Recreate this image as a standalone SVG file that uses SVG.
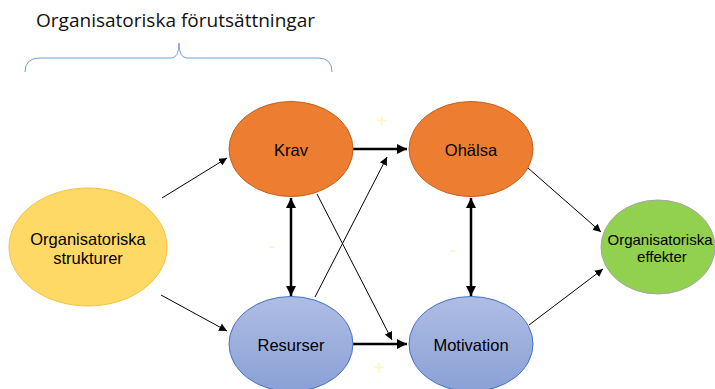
<svg xmlns="http://www.w3.org/2000/svg" width="715" height="389" viewBox="0 0 715 389">
<style>
.lbl{font-family:"Liberation Sans",Arial,sans-serif;font-size:16.5px;fill:#000;text-anchor:middle}
.sm{font-size:15px}
.thin{stroke:#000;stroke-width:1;fill:none;marker-end:url(#ah)}
.thick{stroke:#000;stroke-width:2.5;fill:none}
.sign{font-family:"Liberation Sans",Arial,sans-serif;font-size:20px;fill:#FFF7C0;text-anchor:middle}
</style>
<defs>
<linearGradient id="blue" x1="0" y1="0" x2="0" y2="1">
<stop offset="0" stop-color="#AEBDE4"/>
<stop offset="1" stop-color="#8AA1D6"/>
</linearGradient>
<marker id="ah" viewBox="0 0 10 10" refX="10" refY="5" markerWidth="8" markerHeight="8" markerUnits="userSpaceOnUse" orient="auto">
<path d="M0,0 L10,5 L0,10 z" fill="#000"/>
</marker>
<marker id="ahb" viewBox="0 0 10 10" refX="10" refY="5" markerWidth="4" markerHeight="4" orient="auto-start-reverse">
<path d="M0,0 L10,5 L0,10 z" fill="#000"/>
</marker>
</defs>
<rect width="715" height="389" fill="#fff"/>
<g id="title">
<text x="36" y="27" font-family="'Open Sans','Liberation Sans',sans-serif" font-size="19" fill="#111" textLength="279" lengthAdjust="spacingAndGlyphs">Organisatoriska förutsättningar</text>
<path d="M25,72 Q25,58 40,58 L171,58 Q179,58 179,43 Q179,58 187,58 L318,58 Q332,58 332,72" fill="none" stroke="#6FA0D8" stroke-width="1"/>
</g>
<g id="connectors">
<line class="thin" x1="162" y1="198" x2="227" y2="158"/>
<line class="thin" x1="161" y1="295" x2="227" y2="331"/>
<line class="thick" x1="353" y1="149" x2="407" y2="149" marker-end="url(#ahb)"/>
<line class="thick" x1="353" y1="344" x2="407" y2="344" marker-end="url(#ahb)"/>
<line class="thick" x1="291" y1="198" x2="291" y2="296" marker-start="url(#ahb)" marker-end="url(#ahb)"/>
<line class="thick" x1="471" y1="198" x2="471" y2="296" marker-start="url(#ahb)" marker-end="url(#ahb)"/>
<line class="thin" x1="315" y1="297" x2="387" y2="157"/>
<line class="thin" x1="317" y1="194" x2="392" y2="340"/>
<line class="thin" x1="528" y1="168" x2="601" y2="232"/>
<line class="thin" x1="529" y1="325" x2="603" y2="269"/>
</g>
<g id="signs">
<text class="sign" x="382" y="128">+</text>
<text class="sign" x="272" y="253">-</text>
<text class="sign" x="453" y="257">-</text>
<text class="sign" x="379" y="375">+</text>
</g>
<g id="strukturer">
<ellipse cx="88" cy="247" rx="79" ry="59" fill="#FFD966" stroke="#F2C244" stroke-width="1"/>
<text class="lbl" x="88" y="245">Organisatoriska</text>
<text class="lbl" x="88" y="264">strukturer</text>
</g>
<g id="krav">
<ellipse cx="291" cy="149" rx="62" ry="47.5" fill="#ED7D31" stroke="#C2621F" stroke-width="1"/>
<text class="lbl" x="291" y="156">Krav</text>
</g>
<g id="ohalsa">
<ellipse cx="471" cy="149" rx="62" ry="47.5" fill="#ED7D31" stroke="#C2621F" stroke-width="1"/>
<text class="lbl" x="471" y="156">Ohälsa</text>
</g>
<g id="resurser">
<ellipse cx="291" cy="344" rx="62" ry="47.5" fill="url(#blue)" stroke="#4472C4" stroke-width="1"/>
<text class="lbl" x="291" y="351">Resurser</text>
</g>
<g id="motivation">
<ellipse cx="471" cy="344" rx="62" ry="47.5" fill="url(#blue)" stroke="#4472C4" stroke-width="1"/>
<text class="lbl" x="471" y="351">Motivation</text>
</g>
<g id="effekter">
<ellipse cx="658" cy="247" rx="57" ry="47" fill="#92D050" stroke="#A5A5A5" stroke-width="1"/>
<text class="lbl sm" x="660" y="245">Organisatoriska</text>
<text class="lbl sm" x="662" y="262">effekter</text>
</g>
</svg>
